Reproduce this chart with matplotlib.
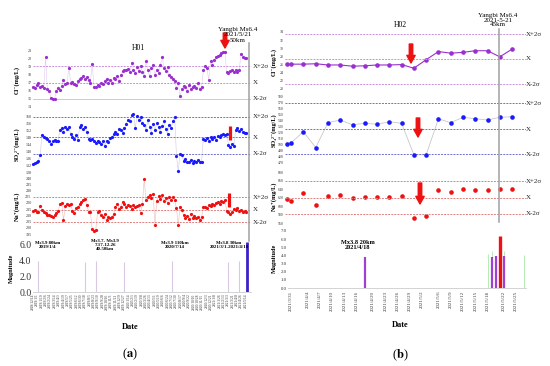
import matplotlib
matplotlib.use('Agg')
import matplotlib.pyplot as plt
from matplotlib.patches import FancyArrowPatch
from matplotlib.lines import Line2D
import pandas as pd

# ---------------- data: H01 (panel a) ----------------
h01_start, h01_end = '2018-12-14', '2021-05-18'
h01_cl = [16.4, 16.3, 16.7, 16.9, 16.5, 16.6, 16.3, 20.1, 16.2, 16.0,
          15.1, 15.0, 15.0, 16.0, 16.3, 16.1, 16.6, 17.3, 16.8, 17.0,
          18.8, 17.0, 17.1, 16.8, 16.7, 17.2, 17.4, 17.6, 17.8, 17.5,
          17.7, 17.3, 17.0, 19.3, 16.5, 16.4, 16.7, 16.6, 17.0, 16.8,
          17.2, 17.5, 16.9, 17.3, 17.0, 17.6, 17.4, 17.8, 17.2, 17.9,
          18.4, 18.6, 18.5, 18.7, 18.3, 19.4, 18.6, 18.2, 18.9, 18.4,
          19.0, 18.3, 17.8, 19.6, 18.5, 17.8, 18.8, 19.2, 17.9, 18.6,
          18.2, 19.1, 20.2, 18.8, 18.4, 18.9, 17.9, 17.7, 17.5, 17.2,
          16.3, 17.0, 15.4, 16.2, 16.6, 16.5, 16.0, 16.7, 16.2, 16.5,
          16.6, 16.3, 16.9, 16.2, 16.5, 18.5, 19.0, 18.8, 17.3, 19.6,
          19.2, 19.8, 20.1, 20.3, 20.4, 20.6, 20.7, 20.8, 18.3, 18.2,
          18.4, 18.6, 18.3, 18.5, 18.3, 18.6, 20.5, 20.2, 20.0, 20.0]
h01_so4 = [132.5, 133.0, 133.8, 134.5, 137.5, 149.0, 148.2, 147.5, 146.8, 145.5,
           144.2, 145.5, 146.5, 146.0, 145.8, 152.0, 153.0, 151.0, 154.0, 152.5,
           153.5, 150.0, 148.0, 147.0, 149.0, 146.5, 153.5, 155.0, 152.5, 154.0,
           151.0, 147.0, 146.2, 146.8, 145.5, 144.8, 146.0, 145.0, 144.0, 145.5,
           143.0, 146.0, 145.0, 147.5, 148.0, 149.5, 151.0, 150.0, 152.5, 152.0,
           150.5, 153.0, 155.5, 158.0, 157.0, 160.5, 161.0, 153.0, 160.0, 157.5,
           159.5, 156.0, 155.0, 152.0, 157.5, 154.0, 150.5, 155.5, 152.0, 156.0,
           153.5, 151.0, 154.5, 157.0, 152.5, 150.0, 155.0, 153.0, 157.0, 159.5,
           137.0, 128.5, 138.5, 137.5, 134.5, 135.5, 133.5, 134.0, 135.0, 133.0,
           134.5, 133.5, 135.0, 133.5, 134.0, 147.0, 146.5, 147.5, 146.0, 147.8,
           147.0, 148.0, 146.5, 148.5, 148.0, 149.0, 149.5, 149.0, 150.0, 143.5,
           142.5, 144.0, 143.0, 152.0, 153.0, 151.5, 152.5, 151.0, 150.5, 150.5]
h01_na = [213.5, 214.0, 212.5, 213.0, 217.5, 214.0, 213.0, 211.5, 210.0, 210.5,
          209.5, 208.5, 210.0, 212.0, 213.5, 219.0, 220.0, 206.0, 217.5, 219.0,
          218.0, 219.5, 213.5, 212.0, 215.5, 216.5, 219.0, 221.0, 222.5, 223.5,
          218.0, 213.0, 212.5, 199.0, 197.5, 198.5, 212.5, 213.5, 210.5, 209.0,
          211.0, 206.0, 208.5, 207.5, 209.0, 211.0, 217.0, 219.5, 215.0, 217.0,
          221.0, 219.0, 216.5, 218.5, 217.5, 215.0, 218.0, 216.5, 217.5, 218.0,
          211.5, 219.0, 239.0, 222.0, 225.0, 226.5, 224.0, 227.5, 202.0, 221.5,
          225.5, 223.0, 226.0, 221.5, 224.0, 220.0, 225.0, 222.5, 224.5, 222.0,
          215.5, 202.0, 217.0, 214.0, 210.5, 208.0, 209.5, 207.0, 211.0, 208.0,
          209.5, 207.5, 208.5, 206.5, 209.0, 216.5, 217.0, 216.0, 218.0, 217.5,
          219.0, 218.5, 220.0, 221.0, 219.5, 221.5, 220.5, 222.0, 213.5, 212.5,
          211.0, 212.5, 215.0, 214.0, 215.5, 213.5, 214.5, 213.0, 213.5, 212.5]
h01_cl_ref = [19.0, 17.0, 15.0]
h01_so4_ref = [159.6, 148.0, 138.4]
h01_na_ref = [224.5, 214.5, 204.5]
h01_eq_dates = ['2019-01-04', '2019-07-17', '2019-08-31', '2019-12-26',
                '2020-07-14', '2021-03-01', '2021-04-18']
h01_eq_mag = [3.9, 3.8, 3.9, 3.8, 3.9, 3.8, 3.9]
yangbi_date, yangbi_mag = '2021-05-21', 6.4

# ---------------- data: H02 (panel b) ----------------
h02_dates = ['2021-03-30', '2021-03-31', '2021-04-03', '2021-04-06', '2021-04-09',
             '2021-04-12', '2021-04-15', '2021-04-18', '2021-04-21', '2021-04-24',
             '2021-04-27', '2021-04-30', '2021-05-03', '2021-05-06', '2021-05-09',
             '2021-05-12', '2021-05-15', '2021-05-18', '2021-05-21', '2021-05-24']
h02_cl = [26.1, 26.1, 26.1, 26.2, 25.9, 25.9, 25.6, 25.7, 25.9, 25.9,
          26.0, 25.1, 27.2, 29.2, 28.8, 29.0, 29.4, 29.4, 27.9, 29.8]
h02_so4 = [500, 502, 520.5, 494, 535.5, 540, 532, 534.5, 533, 537,
           534.5, 482, 482, 542, 535.5, 544.5, 542, 540, 544.5, 545.5]
h02_na = [615.8, 612.5, 630, 602, 623.5, 625, 619, 621, 621, 622,
          623.5, 571, 576.5, 637.6, 632, 640.7, 637, 637, 639, 640.7]
h02_cl_ref = [33.5, 27.4, 21.2]
h02_so4_ref = [568, 525, 483]
h02_na_ref = [658, 620, 582]
h02_eq_dates = ['2021-04-18', '2021-05-18', '2021-05-19', '2021-05-19', '2021-05-20',
                '2021-05-21', '2021-05-22', '2021-05-22', '2021-05-27']
h02_eq_mag = [3.8, 4.2, 4.5, 3.8, 3.9, 6.4, 4.5, 3.9, 4.1]
h02_eq_kind = ['small', 'after', 'after', 'small', 'small', 'main', 'after', 'small', 'after']
h02_ticks = ['2021/3/31', '2021/4/4', '2021/4/7', '2021/4/10', '2021/4/13', '2021/4/16',
             '2021/4/20', '2021/4/23', '2021/4/26', '2021/4/29', '2021/5/2', '2021/5/6',
             '2021/5/9', '2021/5/12', '2021/5/15', '2021/5/18', '2021/5/22', '2021/5/25']

# ---------------- layout helpers ----------------
W, H = 550, 366
plt.rcParams['font.family'] = ['Liberation Serif', 'DejaVu Serif']
plt.rcParams['mathtext.fontset'] = 'stix'
fig = plt.figure(figsize=(5.5, 3.66), dpi=100)


def box(l, t, r, b):
    return [l / W, 1 - b / H, (r - l) / W, (b - t) / H]


def fx(x):
    return x / W


def fy(y):
    return 1 - y / H


def clean(ax, fs=3):
    for s in ax.spines.values():
        s.set_visible(False)
    ax.tick_params(length=0, labelsize=fs, pad=1, colors='#333333')
    ax.patch.set_alpha(0)


def refs(ax, vals, color, xlab, solid_last=False):
    names = ['X+2σ', 'X', 'X-2σ']
    for i, (v, n) in enumerate(zip(vals, names)):
        if solid_last and i == 2:
            ax.axhline(v, color='#cccccc', lw=0.7)
        else:
            ax.axhline(v, color=color, lw=0.7, ls=(0, (2, 1.2)))
        ax.text(xlab, v, n, transform=ax.get_yaxis_transform(), fontsize=5,
                va='center', ha='left', color='#222222')


def arrow(x, y0, y1, head=True):
    if head:
        a = FancyArrowPatch((fx(x), fy(y0)), (fx(x), fy(y1)), transform=fig.transFigure,
                            arrowstyle='simple,head_length=0.55,head_width=0.6,tail_width=0.25',
                            mutation_scale=10, color='#ee1111', shrinkA=0, shrinkB=0)
        fig.add_artist(a)
    else:
        fig.add_artist(Line2D([fx(x), fx(x)], [fy(y0), fy(y1)], transform=fig.transFigure,
                              color='#ee1111', lw=2.3, solid_capstyle='butt'))


# ---------------- panel (a) ----------------
a_dates = pd.date_range(h01_start, h01_end, periods=len(h01_cl))
a_xlim = (pd.Timestamp('2018-12-14'), pd.Timestamp('2021-06-06'))
L, R = 33, 251

ax1 = fig.add_axes(box(L, 50, R, 107))
ax1.plot(a_dates, h01_cl, color='#e2c8ee', lw=0.4, zorder=1)
ax1.plot(a_dates, h01_cl, 'o', ms=2.3, color='#9a2fd0', mec='none', clip_on=False, zorder=3)
ax1.set_ylim(14, 21)
ax1.set_yticks(range(14, 22))
refs(ax1, h01_cl_ref, '#c98fdc', 1.01, solid_last=True)

ax2 = fig.add_axes(box(L, 116, R, 172))
ax2.plot(a_dates, h01_so4, color='#cccce0', lw=0.4, zorder=1)
ax2.plot(a_dates, h01_so4, 'o', ms=2.3, color='#1a1aff', mec='none', clip_on=False, zorder=3)
ax2.set_ylim(128, 160)
ax2.set_yticks(range(128, 161, 4))
refs(ax2, h01_so4_ref, '#7070d0', 1.01)

ax3 = fig.add_axes(box(L, 178, R, 234))
ax3.plot(a_dates, h01_na, color='#f2b8b8', lw=0.4, zorder=1)
ax3.plot(a_dates, h01_na, 'o', ms=2.3, color='#ee1111', mec='none', clip_on=False, zorder=3)
ax3.set_ylim(195, 240)
ax3.set_yticks(range(195, 241, 5))
refs(ax3, h01_na_ref, '#e08080', 1.01)

for ax in (ax1, ax2, ax3):
    ax.set_xlim(*a_xlim)
    ax.set_xticks([])
    clean(ax)

ax4 = fig.add_axes(box(L, 241, R, 292))
ax4.vlines(pd.to_datetime(h01_eq_dates), 0, h01_eq_mag, color='#d8c8e2', lw=0.8)
ax4.vlines(pd.Timestamp(yangbi_date), 0, yangbi_mag, color='#3a22c8', lw=2)
ax4.set_ylim(0, 6.5)
ax4.set_yticks([0, 2, 4, 6])
ax4.set_yticklabels(['0.0', '2.0', '4.0', '6.0'])
ax4.set_xlim(*a_xlim)
a_ticks = pd.date_range('2018-12-14', '2021-05-24', freq='18D')
ax4.set_xticks(a_ticks)
ax4.set_xticklabels([f'{d.year}/{d.month}/{d.day}' for d in a_ticks], rotation=90)
clean(ax4, fs=7)
ax4.tick_params(axis='x', labelsize=2.6)
ax4.spines['bottom'].set_visible(True)
ax4.spines['bottom'].set_color('#cccccc')
ax4.spines['bottom'].set_linewidth(0.6)

# panel (a) text
fig.text(fx(138), fy(48), 'H01', ha='center', va='center', fontsize=5.5)
fig.text(fx(238), fy(35), 'Yangbi Ms6.4\n2021/5/21\n50km', ha='center', va='center',
         fontsize=5, linespacing=1.0)
fig.add_artist(Line2D([fx(248.5), fx(248.5)], [fy(43), fy(241)], transform=fig.transFigure,
                      color='#a0a0a0', lw=1.1))
for txt, x, y in [('Cl⁻(mg/L)', 17, 80), ('SO₄²⁻(mg/L)', 17, 144),
                  ('Na⁺(mg/L)', 17, 206), ('Magnitude', 11, 268)]:
    fig.text(fx(x), fy(y), txt, rotation=90, ha='center', va='center', fontsize=4.5,
             fontweight='bold')
for txt, x, y in [('Ms3.9 80km\n2019/1/4', 48, 245.5),
                  ('Ms3.7- Ms3.9\n7.17-12.26\n40-50km', 105, 245.5),
                  ('Ms3.9 110km\n2020/7/14', 175, 245.5),
                  ('Ms3.8 30km\n2021/3/1-2021/4/18', 229, 245.5)]:
    fig.text(fx(x), fy(y), txt, ha='center', va='center', fontsize=3.5,
             fontweight='bold', linespacing=1.0)
fig.text(fx(130), fy(327), 'Date', ha='center', va='center', fontsize=6, fontweight='bold')
fig.text(fx(130), fy(354), r'($\mathbf{a}$)', ha='center', va='center', fontsize=9)
arrow(225, 33, 48)
arrow(230, 126, 140, head=False)
arrow(229, 193, 207, head=False)

# ---------------- panel (b) ----------------
b_dates = pd.to_datetime(h02_dates)
b0 = pd.Timestamp('2021-03-31')
b_xlim = (b0 - pd.Timedelta(days=1.5), b0 + pd.Timedelta(days=57.4))
L2, R2 = 285, 526

bx1 = fig.add_axes(box(L2, 32, R2, 89))
bx1.plot(b_dates, h02_cl, '-o', color='#9a2fd0', lw=0.8, ms=3.3, mec='none', clip_on=False)
bx1.set_ylim(20, 34)
bx1.set_yticks(range(20, 35, 2))
refs(bx1, h02_cl_ref, '#c98fdc', 1.0)

bx2 = fig.add_axes(box(L2, 96, R2, 162))
bx2.plot(b_dates, h02_so4, color='#c8c8c8', lw=0.6, zorder=1)
bx2.plot(b_dates, h02_so4, 'o', color='#1a1aff', ms=3.3, mec='none', clip_on=False, zorder=3)
bx2.set_ylim(470, 580)
bx2.set_yticks(range(470, 581, 10))
refs(bx2, h02_so4_ref, '#7070d0', 1.0)

bx3 = fig.add_axes(box(L2, 172, R2, 223))
bx3.plot(b_dates, h02_na, 'o', color='#ee1111', ms=3.3, mec='none', clip_on=False)
bx3.set_ylim(560, 680)
bx3.set_yticks(range(560, 681, 20))
refs(bx3, h02_na_ref, '#e08080', 1.0)

for ax in (bx1, bx2, bx3):
    ax.set_xlim(*b_xlim)
    ax.set_xticks([])
    clean(ax, fs=2.8)
    ax.axvline(b_xlim[1], color='#d8d8d8', lw=0.6)

bx4 = fig.add_axes(box(L2 + 3, 231, R2, 288))
kind_style = {'small': ('#a040d0', 1.6), 'after': ('#a8e8a8', 0.6), 'main': ('#ee1111', 2.4)}
for d, m, k in zip(pd.to_datetime(h02_eq_dates), h02_eq_mag, h02_eq_kind):
    c, w = kind_style[k]
    bx4.vlines(d, 0, m, color=c, lw=w, zorder=3 if k != 'after' else 2)
bx4.set_ylim(0, 7)
bx4.set_yticks(range(0, 8))
bx4.set_yticklabels([f'{v:.1f}' for v in range(0, 8)])
bx4.set_xlim(b0 - pd.Timedelta(days=0.8), b_xlim[1])
tick_dates = [pd.Timestamp(t.replace('/', '-')) for t in h02_ticks]
bx4.set_xticks(tick_dates)
bx4.set_xticklabels(h02_ticks, rotation=90)
clean(bx4, fs=3.5)
bx4.tick_params(axis='x', labelsize=3.5, pad=2)
bx4.spines['bottom'].set_visible(True)
bx4.spines['bottom'].set_color('#cccccc')
bx4.spines['bottom'].set_linewidth(0.6)

fig.text(fx(400), fy(25), 'H02', ha='center', va='center', fontsize=5.5)
fig.text(fx(498), fy(20), 'Yangbi Ms6.4\n2021-5-21\n45km', ha='center', va='center',
         fontsize=5, linespacing=1.0)
fig.add_artist(Line2D([fx(498.5), fx(498.5)], [fy(29), fy(222)], transform=fig.transFigure,
                      color='#a0a0a0', lw=1.1))
for txt, x, y in [('Cl⁻(mg/L)', 274, 62), ('SO₄²⁻(mg/L)', 274, 130),
                  ('Na⁺(mg/L)', 274, 196), ('Magnitude', 274, 258)]:
    fig.text(fx(x), fy(y), txt, rotation=90, ha='center', va='center', fontsize=4.5,
             fontweight='bold')
fig.text(fx(358), fy(245), 'Mx3.8 20km\n2021/4/18', ha='center', va='center', fontsize=4.5,
         fontweight='bold', linespacing=1.0)
fig.text(fx(400), fy(325), 'Date', ha='center', va='center', fontsize=6, fontweight='bold')
fig.text(fx(400), fy(355), r'($\mathbf{b}$)', ha='center', va='center', fontsize=9)
arrow(411, 44, 63)
arrow(418, 118, 137)
arrow(420, 183, 204)

fig.savefig('out.png', dpi=100)
